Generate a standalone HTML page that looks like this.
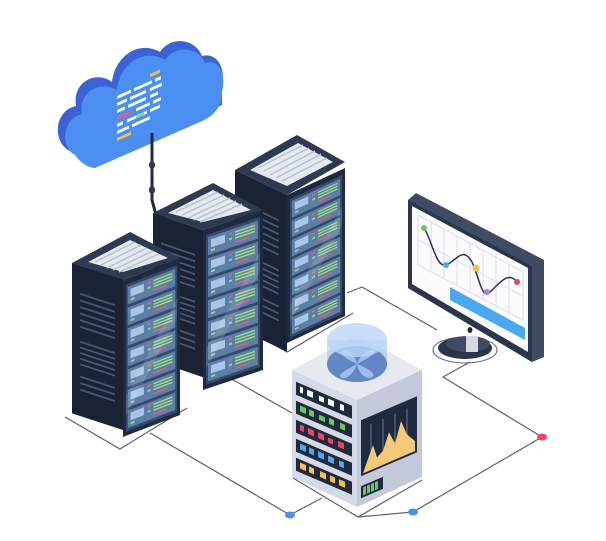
<!DOCTYPE html>
<html><head><meta charset="utf-8"><style>
html,body{margin:0;padding:0;background:#fff;width:606px;height:541px;overflow:hidden}
svg{display:block}
</style></head><body>
<svg width="606" height="541" viewBox="0 0 606 541" xmlns="http://www.w3.org/2000/svg">
<defs>
<symbol id="rf" viewBox="0 0 60 160" width="60" height="160" overflow="visible">
  <rect x="0" y="0" width="60" height="160" fill="#1f2a3e"/>
  <rect x="3" y="6" width="54" height="150" fill="#34496a"/>
  <g id="unit">
    <rect x="5" y="9" width="50" height="18" fill="#5d7ea6"/>
    <rect x="8" y="12" width="14" height="8" fill="#a8c7e6"/>
    <rect x="8" y="22" width="4" height="2" fill="#7ee08a"/>
    <rect x="26" y="12" width="3" height="2" fill="#e7617a"/>
    <rect x="26" y="17" width="3" height="2" fill="#7ee08a"/>
    <rect x="32" y="12" width="20" height="1.5" fill="#9ee07c"/>
    <rect x="32" y="15" width="20" height="1.5" fill="#9ee07c"/>
    <rect x="32" y="18" width="20" height="1.5" fill="#9ee07c"/>
    <rect x="32" y="22" width="14" height="1.5" fill="#e7617a"/>
  </g>
  <use href="#unit" y="21"/><use href="#unit" y="42"/><use href="#unit" y="63"/>
  <use href="#unit" y="84"/><use href="#unit" y="105"/><use href="#unit" y="126"/>
  <path d="M3 120 L57 40 L57 60 L3 140Z" fill="#ffffff" opacity="0.12"/>
</symbol>
<symbol id="lf" viewBox="0 0 50 160" width="50" height="160" overflow="visible">
  <rect x="0" y="0" width="50" height="160" fill="#1a2336"/>
  <g stroke="#4a5872" stroke-width="2">
    <line x1="8" y1="30" x2="42" y2="30"/><line x1="8" y1="37" x2="42" y2="37"/>
    <line x1="8" y1="44" x2="42" y2="44"/><line x1="8" y1="51" x2="42" y2="51"/>
    <line x1="8" y1="58" x2="42" y2="58"/><line x1="8" y1="65" x2="42" y2="65"/>
    <line x1="8" y1="118" x2="42" y2="118"/><line x1="8" y1="125" x2="42" y2="125"/>
    <line x1="8" y1="132" x2="42" y2="132"/>
  </g>
  <g fill="#4a5872">
    <rect x="8" y="80" width="34" height="2"/><rect x="8" y="86" width="34" height="2"/>
    <rect x="8" y="92" width="34" height="2"/><rect x="8" y="98" width="34" height="2"/>
    <rect x="8" y="104" width="34" height="2"/>
  </g>
</symbol>
</defs>

<!-- floor lines -->
<g fill="none" stroke="#5b6373" stroke-width="1.2">
  <path d="M65 417 L120 449 L187 408"/>
  <path d="M150 433 L290 515 L322 498"/>
  <path d="M293 478 L358 517 L422 480"/>
  <path d="M358 517 L413 512"/>
  <path d="M413 512 L542 437 L443 377 L470 362"/>
  <path d="M362 287 L437 330"/>
  <path d="M347 293 L362 287"/>
  <path d="M353 313 L287 352 L230 320"/>
  <path d="M237 382 L292 413"/>
  <path d="M200 363 L237 382"/>
</g>
<ellipse cx="290" cy="515" rx="5" ry="3.5" fill="#4a8ff0"/>
<ellipse cx="413" cy="512" rx="5" ry="3.5" fill="#4a8ff0"/>
<ellipse cx="542" cy="437" rx="5" ry="3.5" fill="#e8475f"/>

<!-- cloud -->
<g>
  <path d="M68 150 C52 140 55 110 76 106 C72 82 96 70 112 82 C115 55 140 40 160 52 C170 36 195 38 202 56 C218 52 226 70 222 86 L222 105 L92 165 Z" fill="#3b63d6"/>
  <path d="M75 155 C60 148 62 118 82 114 C78 92 100 80 117 90 C120 62 145 48 165 60 C175 45 198 46 205 63 C220 58 226 76 222 92 C222 110 210 118 200 122 L95 168 C88 168 80 162 75 155Z" fill="#4b8ff2"/>
  <g transform="matrix(1,-0.45,0,1,0,52.6)">
  <g fill="#fff">
    <rect x="117" y="96" width="14" height="3"/><rect x="134" y="96" width="18" height="3"/><rect x="155" y="96" width="6" height="3"/>
    <rect x="117" y="103" width="10" height="3"/><rect x="130" y="103" width="16" height="3"/><rect x="150" y="103" width="12" height="3"/>
    <rect x="117" y="110" width="8" height="3"/><rect x="128" y="110" width="18" height="3"/><rect x="150" y="110" width="8" height="3"/>
    <rect x="136" y="117" width="14" height="3"/><rect x="153" y="117" width="8" height="3"/>
    <rect x="117" y="124" width="6" height="3"/><rect x="127" y="124" width="20" height="3"/><rect x="150" y="124" width="10" height="3"/>
    <rect x="117" y="131" width="12" height="3"/><rect x="132" y="131" width="18" height="3"/>
  </g>
  <rect x="150" y="89" width="10" height="3" fill="#f5c04a"/>
  <rect x="117" y="138" width="14" height="3" fill="#f5c04a"/>
  <rect x="117" y="117" width="14" height="3" fill="#e7617a"/>
  <rect x="136" y="124" width="8" height="3" fill="#7ee08a"/>
  </g>
</g>
<!-- cable -->
<path d="M152 133 L152 200 L156 215 L165 218" stroke="#1f2a3e" stroke-width="3" fill="none"/>
<ellipse cx="152" cy="165" rx="3" ry="4" fill="#2e3a50"/>
<ellipse cx="152" cy="190" rx="3" ry="4" fill="#2e3a50"/>

<!-- rack 3 -->
<polygon points="235,170 297,135 345,162 287,195" fill="#2e3a52"/>
<polygon points="250,170 298,143 333,162 287,186" fill="#e4e8ef"/>
<g stroke="#b9c1cf" stroke-width="1.5">
  <line x1="258" y1="168" x2="303" y2="145"/><line x1="264" y1="171" x2="309" y2="148"/>
  <line x1="270" y1="175" x2="315" y2="151"/><line x1="276" y1="178" x2="321" y2="154"/>
  <line x1="282" y1="181" x2="327" y2="158"/>
</g>
<g transform="matrix(1.04,0.5,0,0.98,235,170)"><use href="#lf"/></g>
<g transform="matrix(0.967,-0.45,0,0.925,287,195)"><use href="#rf"/></g>

<!-- rack 2 -->
<polygon points="153,213 213,183 263,210 203,230" fill="#2e3a52"/>
<polygon points="168,213 213,190 251,210 203,222" fill="#e4e8ef"/>
<g stroke="#b9c1cf" stroke-width="1.5">
  <line x1="176" y1="212" x2="218" y2="192"/><line x1="182" y1="215" x2="224" y2="195"/>
  <line x1="188" y1="218" x2="230" y2="198"/><line x1="194" y1="220" x2="236" y2="201"/>
  <line x1="200" y1="222" x2="242" y2="204"/>
</g>
<g transform="matrix(1,0.34,0,0.92,153,213)"><use href="#lf"/></g>
<g transform="matrix(1,-0.333,0,1,203,230)"><use href="#rf"/></g>

<!-- rack 1 -->
<polygon points="72,263 130,232 180,258 123,280" fill="#2e3a52"/>
<polygon points="88,262 130,240 168,258 123,272" fill="#e4e8ef"/>
<g stroke="#b9c1cf" stroke-width="1.5">
  <line x1="95" y1="262" x2="135" y2="242"/><line x1="101" y1="265" x2="141" y2="245"/>
  <line x1="107" y1="268" x2="147" y2="248"/><line x1="113" y1="270" x2="153" y2="251"/>
  <line x1="119" y1="272" x2="159" y2="254"/>
</g>
<g transform="matrix(1.02,0.333,0,0.94,72,263)"><use href="#lf"/></g>
<g transform="matrix(0.95,-0.367,0,0.981,123,280)"><use href="#rf"/></g>

<!-- monitor -->
<ellipse cx="465" cy="350" rx="32" ry="13" fill="none" stroke="#5b6373" stroke-width="1"/>
<ellipse cx="465" cy="348" rx="27" ry="11" fill="#2b364b"/>
<ellipse cx="468" cy="344" rx="22" ry="8" fill="#3e4b63"/>
<polygon points="466,336 478,336 478,352 466,352" fill="#d5d9e6"/>
<polygon points="408,200 416,193 544,260 544,357 532,362 408,288" fill="#3e4b63"/>
<polygon points="408,200 532,266 532,362 408,288" fill="#2b364b"/>
<polygon points="412,206 528,268 528,352 412,284" fill="#fbfbfe"/>
<g stroke="#dcdcf0" stroke-width="1" fill="none">
  <polygon points="418,215 523,272 523,320 418,265"/>
  <line x1="418" y1="240" x2="523" y2="296"/>
  <line x1="431" y1="222" x2="431" y2="272"/><line x1="444" y1="229" x2="444" y2="279"/>
  <line x1="457" y1="236" x2="457" y2="286"/><line x1="470" y1="243" x2="470" y2="293"/>
  <line x1="483" y1="250" x2="483" y2="300"/><line x1="496" y1="257" x2="496" y2="307"/>
  <line x1="509" y1="264" x2="509" y2="314"/>
</g>
<polygon points="450,287 525,328 525,340 450,300" fill="#4aa8f0"/>
<path d="M424 228 C432 240 436 268 446 265 C456 262 462 245 472 262 C480 280 482 300 490 292 C498 285 508 270 517 282" stroke="#2b364b" stroke-width="1.5" fill="none"/>
<circle cx="424" cy="228" r="3" fill="#6ac85a"/>
<circle cx="446" cy="265" r="3" fill="#4aa8f0"/>
<circle cx="476" cy="268" r="3.5" fill="#f5c04a"/>
<circle cx="487" cy="292" r="3" fill="#a77ae8"/>
<circle cx="517" cy="282" r="3" fill="#e8475f"/>
<ellipse cx="470" cy="330" rx="2.5" ry="3" fill="#1f2a3e"/>

<!-- fan unit -->
<polygon points="292,370 357,335 422,370 357,400" fill="#e7e9f1"/>
<polygon points="292,370 357,400 357,507 292,477" fill="#d6d9e6"/>
<polygon points="357,400 422,370 422,477 357,507" fill="#c3c8da"/>
<ellipse cx="357" cy="364" rx="30" ry="18" fill="#3f5fa3"/>
<g fill="#a9c0ec">
  <path d="M357 364 C340 356 336 350 345 350 C352 350 356 358 357 364Z"/>
  <path d="M357 364 C372 356 378 352 372 350 C365 350 360 356 357 364Z"/>
  <path d="M357 364 C372 370 378 376 370 378 C362 378 358 370 357 364Z"/>
  <path d="M357 364 C342 372 336 376 343 378 C350 378 355 370 357 364Z"/>
</g>
<path d="M327 340 L327 364 A30 18 0 0 0 387 364 L387 340Z" fill="#8fb8f0" opacity="0.45"/>
<ellipse cx="357" cy="340" rx="30" ry="17" fill="#bcd6f7" opacity="0.8"/>
<g transform="matrix(1,0.43,0,1,292,370)">
  <rect x="4" y="10" width="56" height="13" fill="#1f2a3e"/>
  <rect x="4" y="29" width="56" height="13" fill="#1f2a3e"/>
  <rect x="4" y="48" width="56" height="13" fill="#1f2a3e"/>
  <rect x="4" y="67" width="56" height="13" fill="#1f2a3e"/>
  <rect x="4" y="86" width="56" height="13" fill="#1f2a3e"/>
  <g fill="#ffffff"><rect x="8" y="13" width="3" height="6"/><rect x="15" y="13" width="6" height="6"/><rect x="27" y="14" width="5" height="5"/><rect x="36" y="13" width="6" height="6"/><rect x="48" y="13" width="4" height="6"/></g>
  <g fill="#6ac85a"><rect x="8" y="32" width="6" height="6"/><rect x="17" y="32" width="5" height="6"/><rect x="27" y="33" width="6" height="5"/><rect x="37" y="32" width="5" height="6"/><rect x="48" y="32" width="5" height="6"/></g>
  <g fill="#e8475f"><rect x="8" y="51" width="4" height="6"/><rect x="16" y="51" width="6" height="6"/><rect x="26" y="51" width="6" height="6"/><rect x="36" y="52" width="5" height="5"/><rect x="46" y="51" width="6" height="6"/></g>
  <g fill="#4aa8f0"><rect x="8" y="70" width="6" height="6"/><rect x="17" y="70" width="5" height="6"/><rect x="26" y="70" width="6" height="6"/><rect x="36" y="70" width="6" height="6"/><rect x="47" y="70" width="5" height="6"/></g>
  <g fill="#f5c04a"><rect x="8" y="89" width="6" height="6"/><rect x="17" y="89" width="5" height="6"/><rect x="28" y="89" width="6" height="6"/><rect x="38" y="89" width="5" height="6"/><rect x="47" y="89" width="6" height="6"/></g>
</g>
<g transform="matrix(1,-0.43,0,1,357,400)">
  <rect x="4" y="22" width="56" height="56" fill="#1f2a3e"/>
  <g stroke="#6b7890" stroke-width="1"><line x1="14" y1="30" x2="14" y2="74"/><line x1="26" y1="30" x2="26" y2="74"/><line x1="38" y1="30" x2="38" y2="74"/><line x1="50" y1="30" x2="50" y2="74"/></g>
  <path d="M6 76 L10 66 L16 52 L20 66 L26 62 L32 46 L38 60 L44 40 L50 56 L58 66 L58 76Z" fill="#f5c97a"/>
  <rect x="4" y="88" width="22" height="12" fill="#1f2a3e"/>
  <g fill="#6ac85a"><rect x="6" y="90" width="3" height="8"/><rect x="10" y="90" width="3" height="8"/><rect x="14" y="90" width="3" height="8"/><rect x="18" y="90" width="3" height="8"/></g>
</g>
</svg>
</body></html>
